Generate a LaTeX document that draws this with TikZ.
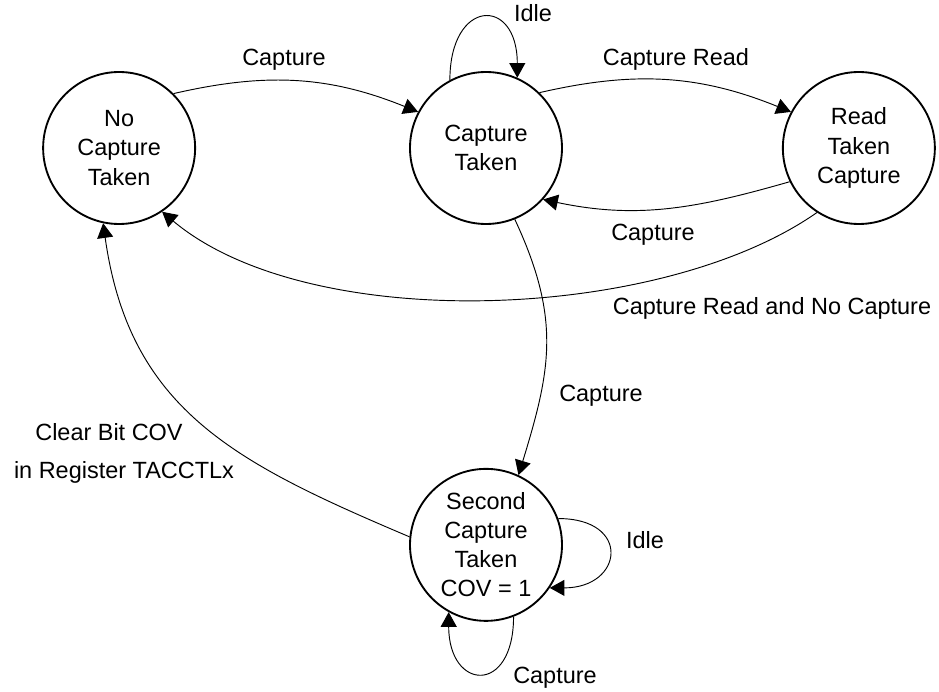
\documentclass[tikz,border=0pt]{standalone}
\usepackage{fontspec}
\setmainfont{Liberation Sans}
\usetikzlibrary{positioning,arrows.meta}

\begin{document}
\begin{tikzpicture}[
        x=0.75pt, y=0.75pt,
        font=\fontsize{17.6}{21.8}\selectfont,
        state/.style={draw, circle, line width=1.4pt, align=center,
            minimum size=114pt, inner sep=0pt},
        trans/.style={-{Triangle[length=11pt, width=12pt]}, line width=0.7pt},
        lbl/.style={inner sep=0pt}
    ]
    \useasboundingbox (-486,-544) rectangle (453,148);
    \node[state] (taken) {Capture\\Taken};
    \node[state, left=159.75pt of taken] (nocap) {No\\Capture\\Taken};
    \node[state, right=164.25pt of taken] (readtaken) {Read\\Taken\\Capture};
    \node[state, below=182.25pt of taken] (second) {Second\\Capture\\Taken\\COV = 1};
    \draw[trans] (nocap.45) to[out=13, in=158] (taken.152);
    \draw[trans] (taken.118) to[out=90, in=90, looseness=3.1] (taken.66);
    \draw[trans] (taken.46) to[out=13, in=158] (readtaken.152);
    \draw[trans] (readtaken.206) to[out=196, in=-12] (taken.318);
    \draw[trans] (readtaken.237) to[out=215, in=-40, looseness=0.75] (nocap.304);
    \draw[trans] (taken.292) to[out=-65, in=73, looseness=1.1] (second.65);
    \draw[trans] (second.174) to[out=157, in=-82, looseness=1.1] (nocap.258);
    \draw[trans] (second.20) to[out=0, in=0, looseness=2.7] (second.-34);
    \draw[trans] (second.291) to[out=-90, in=-90, looseness=3.1] (second.241);
    \node[lbl] (capA) at (-202,88.5) {Capture};
    \node[lbl] (idleA) at (47,134.5) {Idle};
    \node[lbl] (readA) at (190,88.5) {Capture Read};
    \node[lbl] (capB) at (167,-87) {Capture};
    \node[lbl] (readnoA) at (286,-160) {Capture Read and No Capture};
    \node[lbl] (capC) at (115,-248) {Capture};
    \node[lbl] (clearA) at (-377,-284) {Clear Bit COV};
    \node[lbl] (clearB) at (-362,-324) {in Register TACCTLx};
    \node[lbl] (idleB) at (159,-392.5) {Idle};
    \node[lbl] (capD) at (69,-530) {Capture};
\end{tikzpicture}
\end{document}
